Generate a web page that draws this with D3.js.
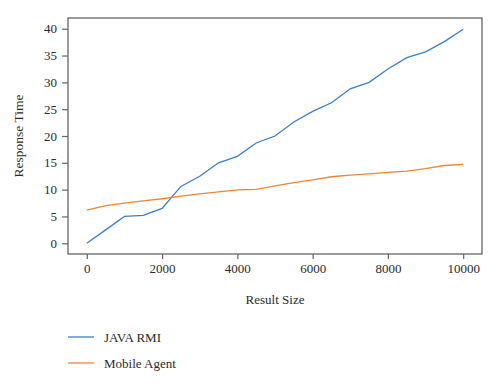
<!DOCTYPE html>
<html>
<head>
<meta charset="utf-8">
<script src="https://cdn.jsdelivr.net/npm/d3@7"></script>
<style>
  body { margin: 0; background: #fff; }
  svg text { font-family: "Liberation Serif", "DejaVu Serif", serif; fill: #2b2b2b; }
</style>
</head>
<body>
<div id="chart"></div>
<script>
// result sizes on the x axis
var sizes = [0, 500, 1000, 1500, 2000, 2500, 3000, 3500, 4000, 4500, 5000,
             5500, 6000, 6500, 7000, 7500, 8000, 8500, 9000, 9500, 10000];

// response times
var javaRmi = [0, 2.5, 5.0, 5.2, 6.5, 10.6, 12.5, 15.0, 16.2, 18.7, 20.0,
               22.6, 24.6, 26.2, 28.8, 30.0, 32.5, 34.6, 35.7, 37.6, 39.9];
var mobileAgent = [6.2, 7.0, 7.5, 7.9, 8.3, 8.8, 9.2, 9.6, 9.95, 10.05, 10.7,
                   11.3, 11.8, 12.4, 12.7, 12.95, 13.2, 13.45, 13.9, 14.5, 14.7];

var xTicks = [0, 2000, 4000, 6000, 8000, 10000];
var yTicks = [0, 5, 10, 15, 20, 25, 30, 35, 40];

var series = [
  { name: "JAVA RMI", values: javaRmi, color: "#3b80cc" },
  { name: "Mobile Agent", values: mobileAgent, color: "#e8883a" }
];

var margin = { top: 18, right: 18, bottom: 134, left: 68 },
    width = 500 - margin.left - margin.right,
    height = 388 - margin.top - margin.bottom;

var x = d3.scaleLinear().domain([-500, 10500]).range([0, width]);
var y = d3.scaleLinear().domain([-2, 42]).range([height, 0]);

var svg = d3.select("#chart").append("svg")
    .attr("width", 500)
    .attr("height", 388);

var g = svg.append("g")
    .attr("transform", "translate(" + margin.left + "," + margin.top + ")");

// frame
g.append("rect")
    .attr("width", width)
    .attr("height", height)
    .attr("fill", "none")
    .attr("stroke", "#666")
    .attr("stroke-width", 1.3);

// axes
var xAxis = g.append("g")
    .attr("transform", "translate(0," + height + ")")
    .call(d3.axisBottom(x).tickValues(xTicks).tickSize(5).tickPadding(5).tickFormat(d3.format("d")));
var yAxis = g.append("g")
    .call(d3.axisLeft(y).tickValues(yTicks).tickSize(6).tickPadding(5));

[xAxis, yAxis].forEach(function (a) {
  a.attr("font-family", "Liberation Serif").attr("font-size", 13);
  a.select(".domain").remove();
  a.selectAll("line").attr("stroke", "#666").attr("stroke-width", 1.2);
  a.selectAll("text").attr("fill", "#2b2b2b");
});

// lines
var line = d3.line()
    .x(function (d, i) { return x(sizes[i]); })
    .y(function (d) { return y(d); });

series.forEach(function (s) {
  g.append("path")
      .datum(s.values)
      .attr("fill", "none")
      .attr("stroke", s.color)
      .attr("stroke-width", 1.3)
      .attr("d", line);
});

// axis labels
g.append("text")
    .attr("x", width / 2)
    .attr("y", height + 50)
    .attr("text-anchor", "middle")
    .style("font-size", "13px")
    .text("Result Size");

g.append("text")
    .attr("transform", "translate(" + (-45) + "," + (height / 2) + ") rotate(-90)")
    .attr("text-anchor", "middle")
    .style("font-size", "13.5px")
    .text("Response Time");

// legend
var legend = svg.append("g").attr("transform", "translate(68,337)");
series.forEach(function (s, i) {
  var row = legend.append("g").attr("transform", "translate(0," + (i * 26) + ")");
  row.append("line")
      .attr("x1", 0).attr("x2", 26)
      .attr("stroke", s.color).attr("stroke-width", 1.3);
  row.append("text")
      .attr("x", 36)
      .attr("dy", "0.35em")
      .style("font-size", "13px")
      .text(s.name);
});
</script>
</body>
</html>
